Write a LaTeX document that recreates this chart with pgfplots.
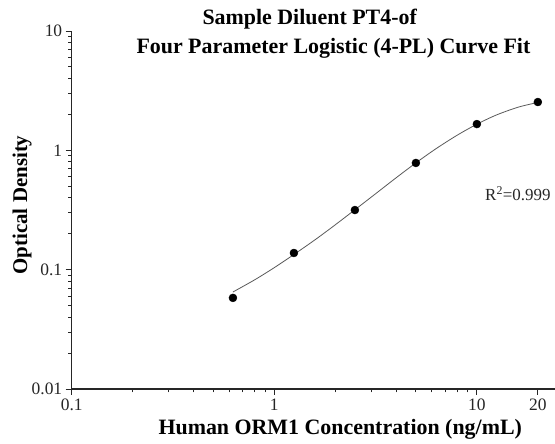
\documentclass[border=0pt]{standalone}
\usepackage{fontspec}
\setmainfont{Liberation Serif}
\usepackage{pgfplots}
\pgfplotsset{compat=1.18}

% fitted 4-PL curve
\pgfplotstableread{
x      y
0.625  0.065
0.8    0.0822
1      0.104
1.25   0.134
1.6    0.1795
2      0.2377
2.5    0.3177
3.2    0.4395
4      0.590
5      0.785
6.3    1.035
8      1.340
10     1.656
12.5   1.980
16     2.300
20     2.520
}\fitcurve

% standards
\pgfplotstableread{
x      y
0.625  0.058
1.25   0.138
2.5    0.316
5      0.784
10     1.660
20     2.540
}\standards

\begin{document}
\begin{tikzpicture}
\begin{axis}[
    name=ax,
    scale only axis,
    width=483.3bp, height=358bp,
    xmode=log, ymode=log,
    xmin=0.1, xmax=24.3,
    ymin=0.01, ymax=10,
    axis x line*=bottom,
    axis y line*=left,
    x axis line style={-},
    y axis line style={-},
    axis line style={black!85, line width=1.1bp},
    tick style={black!85, line width=0.9bp},
    tick align=outside,
    major tick length=6bp,
    minor tick length=3.5bp,
    xtick={0.1,1,10,20},
    xticklabels={0.1,1,10,20},
    minor xtick={0.2,0.3,0.4,0.5,0.6,0.7,0.8,0.9,2,3,4,5,6,7,8,9},
    ytick={0.01,0.1,1,10},
    yticklabels={0.01,0.1,1,10},
    minor ytick={0.02,0.03,0.04,0.05,0.06,0.07,0.08,0.09,0.2,0.3,0.4,0.5,0.6,0.7,0.8,0.9,2,3,4,5,6,7,8,9},
    ticklabel style={font=\fontsize{17.5}{20}\selectfont, black!85},
    clip=false,
]
\coordinate (bl) at (rel axis cs:0,0);
\coordinate (tr) at (rel axis cs:1,1);
\addplot[gray!70!black, line width=0.8bp, smooth, no markers] table[x=x, y=y] {\fitcurve};
\addplot[only marks, mark=*, mark size=4bp, mark options={fill=black, draw=black}] table[x=x, y=y] {\standards};
\end{axis}
\node[anchor=base west, font=\fontsize{22}{25}\selectfont\bfseries] at ([shift={(127.3bp,364bp)}]bl) {Sample Diluent PT4-of};
\node[anchor=base west, font=\fontsize{22}{25}\selectfont\bfseries] at ([shift={(61.3bp,335bp)}]bl) {Four Parameter Logistic (4-PL) Curve Fit};
\node[anchor=base west, font=\fontsize{22}{25}\selectfont\bfseries] at ([shift={(83.3bp,-45bp)}]bl) {Human ORM1 Concentration (ng/mL)};
\node[rotate=90, anchor=center, font=\fontsize{21}{24}\selectfont\bfseries] at ([shift={(-49.7bp,184bp)}]bl) {Optical Density};
\node[anchor=base west, inner sep=0pt, font=\fontsize{17}{20}\selectfont, black!85] at ([shift={(413.3bp,188bp)}]bl) {R\textsuperscript{2}=0.999};
\pgfresetboundingbox
\path ([shift={(-71.7bp,-55bp)}]bl) rectangle ([shift={(0bp,31bp)}]tr);
\end{tikzpicture}
\end{document}
